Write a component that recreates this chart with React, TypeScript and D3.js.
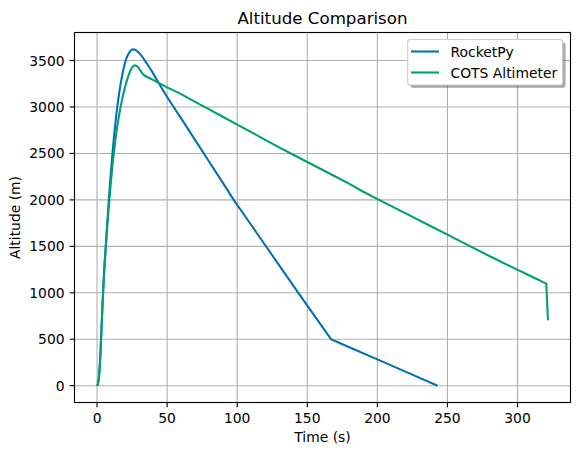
import React from "react";
import * as d3 from "d3";

const rocketpyTime = [0,0.5,1,1.5,2,2.5,3,3.5,4,4.5,5,5.5,6,7,8,9,10,11,12,13,14,15,16,17,18,19,20,21,22,23,24,25,25.8,27,28.5,30,31.5,33,34.5,36,38,40,42,44,47,50,55,60,70,80,90,97.5,110,120,130,140,150,160,167,180,200,220,243];
const rocketpyAltitude = [0,12,50,120,230,380,560,740,910,1070,1220,1350,1460,1690,1915,2130,2320,2500,2665,2810,2945,3065,3170,3265,3345,3420,3480,3525,3560,3587,3606,3617,3621,3617,3603,3582,3555,3525,3492,3458,3412,3362,3310,3258,3180,3108,2992,2877,2644,2411,2178,2000,1730,1512,1295,1078,862,650,499,414,283,151,0];

const cotsTime = [0,0.5,1,1.5,2,2.5,3,3.5,4,4.5,5,5.5,6,7,8,9,10,11,12,13,14,15,16,17,18,19,20,21,22,23,24,25,26,26.8,28,29.5,31,32.5,34,37,40,43.9,50,59.3,70,80,90,100,110,120,130.6,140,150,160,170,180.4,190,199.4,210,223,235,249.3,265,281.3,295,310,320.5,321.7];
const cotsAltitude = [0,10,45,112,220,365,540,720,890,1050,1195,1320,1425,1660,1855,2040,2210,2370,2510,2635,2745,2845,2935,3015,3090,3155,3215,3270,3320,3362,3398,3425,3442,3449,3445,3425,3392,3358,3337,3315,3292,3259,3212,3144,3056,2974,2892,2811,2729,2647,2560,2486,2408,2330,2252,2170,2088,2014,1933,1833,1741,1631,1510,1385,1285,1175,1098,703];

const xTicks = [0,50,100,150,200,250,300];
const yTicks = [0,500,1000,1500,2000,2500,3000,3500];
const seriesNames = ["RocketPy","COTS Altimeter"];
const seriesColors = ["#0072B2","#009E73"];

const W = 580, H = 455;
const L = 74.5, R = 570.5, T = 32.5, B = 402.5;
const FONT = "DejaVu Sans";

export default function App() {
  const allT = [...rocketpyTime, ...cotsTime];
  const allA = [...rocketpyAltitude, ...cotsAltitude];
  const [tMin, tMax] = d3.extent(allT) as [number, number];
  const [aMin, aMax] = d3.extent(allA) as [number, number];
  const tPad = (tMax - tMin) * 0.05, aPad = (aMax - aMin) * 0.05;
  const x = d3.scaleLinear().domain([tMin - tPad, tMax + tPad]).range([L, R]);
  const y = d3.scaleLinear().domain([aMin - aPad, aMax + aPad]).range([B, T]);
  const line = d3.line<[number, number]>().x(d => x(d[0])).y(d => y(d[1]));
  const series = [
    rocketpyTime.map((t, i) => [t, rocketpyAltitude[i]] as [number, number]),
    cotsTime.map((t, i) => [t, cotsAltitude[i]] as [number, number]),
  ];
  const lx = 407.7, ly = 39.5, lw = 155, lh = 45.5;
  return (
    <svg width={W} height={H} style={{ position: "absolute", left: 0, top: 0 }} fontFamily={FONT}>
      <rect x={0} y={0} width={W} height={H} fill="#fff" />
      <defs>
        <clipPath id="clip"><rect x={L} y={T} width={R - L} height={B - T} /></clipPath>
      </defs>
      {xTicks.map(t => (
        <line key={"gx" + t} x1={x(t)} x2={x(t)} y1={T} y2={B} stroke="#b0b0b0" strokeWidth={1.11} />
      ))}
      {yTicks.map(t => (
        <line key={"gy" + t} x1={L} x2={R} y1={y(t)} y2={y(t)} stroke="#b0b0b0" strokeWidth={1.11} />
      ))}
      <g clipPath="url(#clip)">
        {series.map((s, i) => (
          <path key={i} d={line(s) || ""} fill="none" stroke={seriesColors[i]} strokeWidth={2.08} strokeLinejoin="round" strokeLinecap="butt" />
        ))}
      </g>
      <rect x={L} y={T} width={R - L} height={B - T} fill="none" stroke="#000" strokeWidth={1.11} />
      {xTicks.map(t => (
        <g key={"tx" + t}>
          <line x1={x(t)} x2={x(t)} y1={B} y2={B + 4.86} stroke="#000" strokeWidth={1.11} />
          <text x={x(t)} y={423.3} fontSize={13.89} textAnchor="middle" fill="#000">{t}</text>
        </g>
      ))}
      {yTicks.map(t => (
        <g key={"ty" + t}>
          <line x1={L - 4.86} x2={L} y1={y(t)} y2={y(t)} stroke="#000" strokeWidth={1.11} />
          <text x={64.6} y={y(t) + 5} fontSize={13.89} textAnchor="end" fill="#000">{t}</text>
        </g>
      ))}
      <text x={(L + R) / 2} y={442} fontSize={13.89} textAnchor="middle" fill="#000">Time (s)</text>
      <text transform={`translate(20,${(T + B) / 2}) rotate(-90)`} fontSize={13.89} textAnchor="middle" fill="#000">Altitude (m)</text>
      <text x={(L + R) / 2} y={24.2} fontSize={16.67} textAnchor="middle" fill="#000">Altitude Comparison</text>
      <rect x={lx + 2.78} y={ly + 2.78} width={lw} height={lh} rx={2.8} fill="rgb(77,77,77)" opacity={0.5} />
      <rect x={lx} y={ly} width={lw} height={lh} rx={2.8} fill="#fff" stroke="#cccccc" strokeWidth={1.11} />
      {seriesNames.map((n, i) => (
        <g key={n}>
          <line x1={411} x2={439} y1={51.5 + i * 21} y2={51.5 + i * 21} stroke={seriesColors[i]} strokeWidth={2.08} />
          <text x={450.5} y={56.5 + i * 21} fontSize={13.89} fill="#000">{n}</text>
        </g>
      ))}
    </svg>
  );
}
